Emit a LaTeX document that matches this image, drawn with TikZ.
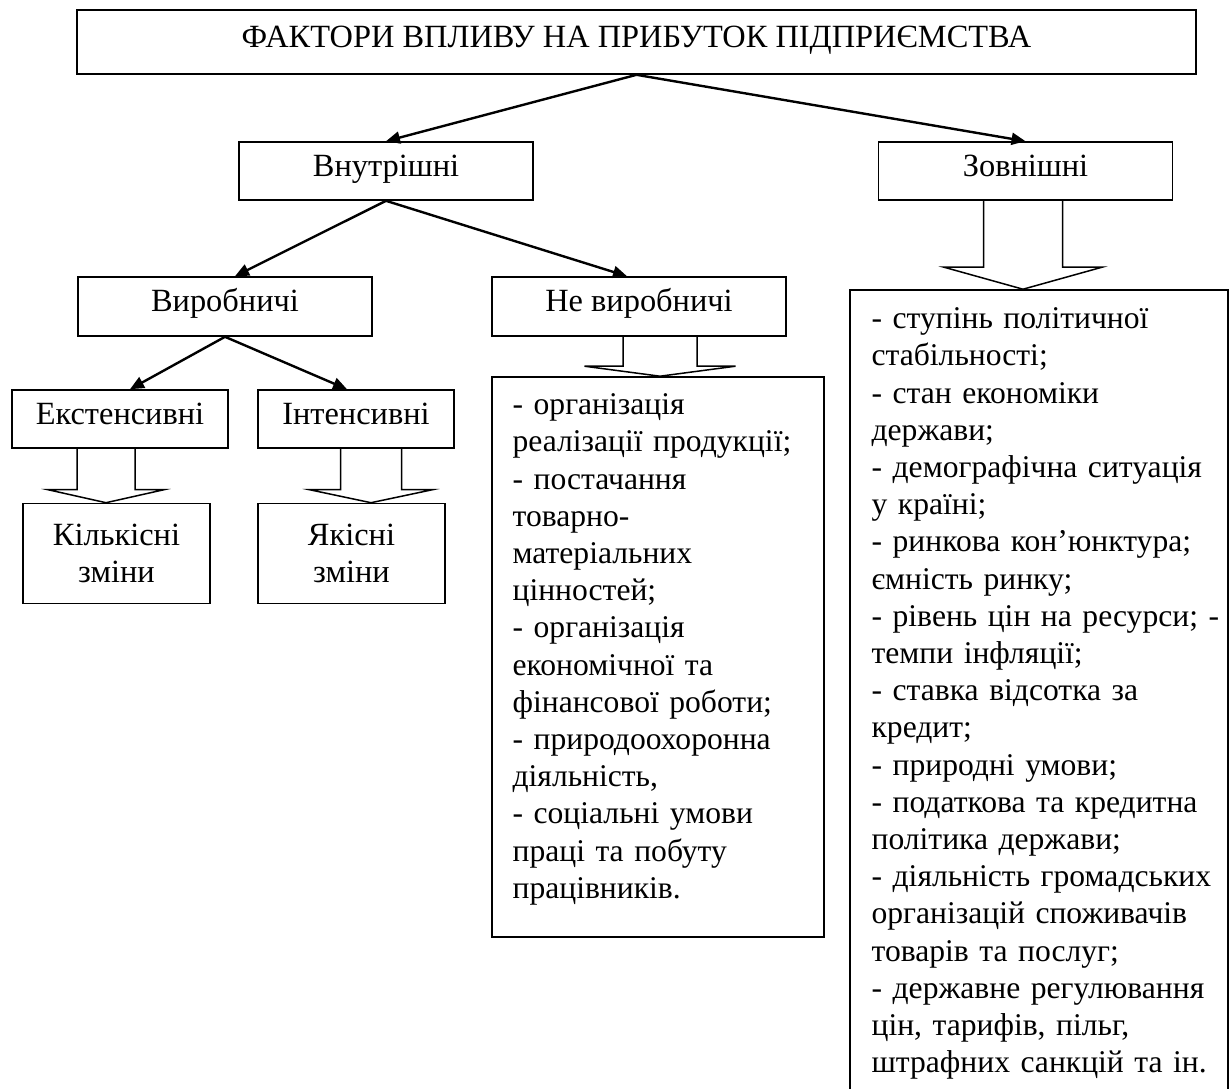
\documentclass[tikz,border=0pt]{standalone}
\usepackage{fontspec}
\setmainfont{Liberation Serif}
\usetikzlibrary{arrows.meta,positioning,calc}
\tikzset{
  factorbox/.style={
    rectangle, draw, line width=0.8pt,
    minimum width=#1, minimum height=29pt,
    align=center, inner sep=2pt
  },
  factorbox/.default=147pt,
  oneline/.style={text height=0.75em, text depth=0.25em},
  listbox/.style={rectangle, draw, line width=0.8pt, inner sep=0pt},
  listtext/.style={anchor=north west, inner sep=0pt, align=left, text width=#1,
    font=\fontsize{15.8pt}{18.6pt}\selectfont},
  listtext/.default=165pt,
  factorarrow/.style={-{Triangle[length=7pt,width=6pt]}, line width=1.2pt},
  hollowline/.style={line width=0.75pt},
}
% hollow block arrow: from, to, x offset, shaft half width, head half width, head height
\newcommand{\hollowarrow}[6]{%
  \coordinate (ha top) at ($(#1.south)+(#3,0)$);
  \coordinate (ha tip) at (ha top |- #2.north);
  \draw[hollowline] ($(ha top)+(-#4,0)$) -- ($(ha tip)+(-#4,-#6)$) -- ($(ha tip)+(-#5,-#6)$)
    -- (ha tip) -- ($(ha tip)+(#5,-#6)$) -- ($(ha tip)+(#4,-#6)$) -- ($(ha top)+(#4,0)$);
}

\begin{document}
\begin{tikzpicture}[x=0.5pt, y=-0.5pt, font=\fontsize{16.2pt}{18.6pt}\selectfont]
    \path[use as bounding box, fill=white] (0,0) rectangle (1230,1088);

    % Top level
    \node[factorbox=559.5pt, oneline, minimum height=32pt] (title) at (636.5,42)
        {ФАКТОРИ ВПЛИВУ НА ПРИБУТОК ПІДПРИЄМСТВА};
    \node[factorbox, oneline] (vnutr) at (386,171) {Внутрішні};
    \node[factorbox, oneline] (zovn) at (1025.5,171) {Зовнішні};

    % Internal factors
    \node[factorbox, oneline, minimum height=29.5pt] (vyr) at (225,306.5) {Виробничі};
    \node[factorbox, oneline, minimum height=29.5pt] (nevyr) at (639,306.5) {Не виробничі};
    \node[factorbox=108pt, oneline] (ext) at (120,419) {Екстенсивні};
    \node[factorbox=98pt, oneline] (intens) at (356,419) {Інтенсивні};
    \node[factorbox=93.5pt, minimum height=50pt] (kil) at (116.5,553.5) {Кількісні\\зміни};
    \node[factorbox=93.5pt, minimum height=50pt] (yak) at (351.5,553.5) {Якісні\\зміни};

    % Lists
    \node[listbox, minimum width=166pt, minimum height=280pt] (nevyrlist) at (658,657) {};
    \node[listtext] (nevyrtext) at ($(nevyrlist.north west)+(21,12)$) {%
        \strut- організація\\
        реалізації продукції;\\
        - постачання\\
        товарно-\\
        матеріальних\\
        цінностей;\\
        - організація\\
        економічної та\\
        фінансової роботи;\\
        - природоохоронна\\
        діяльність,\\
        - соціальні умови\\
        праці та побуту\\
        працівників.};
    \node[listbox, minimum width=189pt, minimum height=401pt] (zovnlist) at (1039,691) {};
    \node[listtext=185pt] (zovntext) at ($(zovnlist.north west)+(22,13)$) {%
        \strut- ступінь політичної\\
        стабільності;\\
        - стан економіки\\
        держави;\\
        - демографічна ситуація\\
        у країні;\\
        - ринкова кон’юнктура;\\
        ємність ринку;\\
        - рівень цін на ресурси; -\\
        темпи інфляції;\\
        - ставка відсотка за\\
        кредит;\\
        - природні умови;\\
        - податкова та кредитна\\
        політика держави;\\
        - діяльність громадських\\
        організацій споживачів\\
        товарів та послуг;\\
        - державне регулювання\\
        цін, тарифів, пільг,\\
        штрафних санкцій та ін.};

    % Arrows
    \draw[factorarrow] (title.south) -- (vnutr.north);
    \draw[factorarrow] (title.south) -- (zovn.north);
    \draw[factorarrow] (vnutr.south) -- ($(vyr.north)+(10,0)$);
    \draw[factorarrow] (vnutr.south) -- ($(nevyr.north)+(-12,0)$);
    \draw[factorarrow] (vyr.south) -- ($(ext.north)+(10,0)$);
    \draw[factorarrow] (vyr.south) -- ($(intens.north)+(-9,0)$);

    % Block arrows
    \hollowarrow{ext}{kil}{-14}{29}{58}{13}
    \hollowarrow{intens}{yak}{15}{30.5}{61.5}{13}
    \hollowarrow{nevyr}{nevyrlist}{21}{37}{75.5}{10}
    \hollowarrow{zovn}{zovnlist}{-2.5}{39.5}{79}{22}
\end{tikzpicture}
\end{document}
